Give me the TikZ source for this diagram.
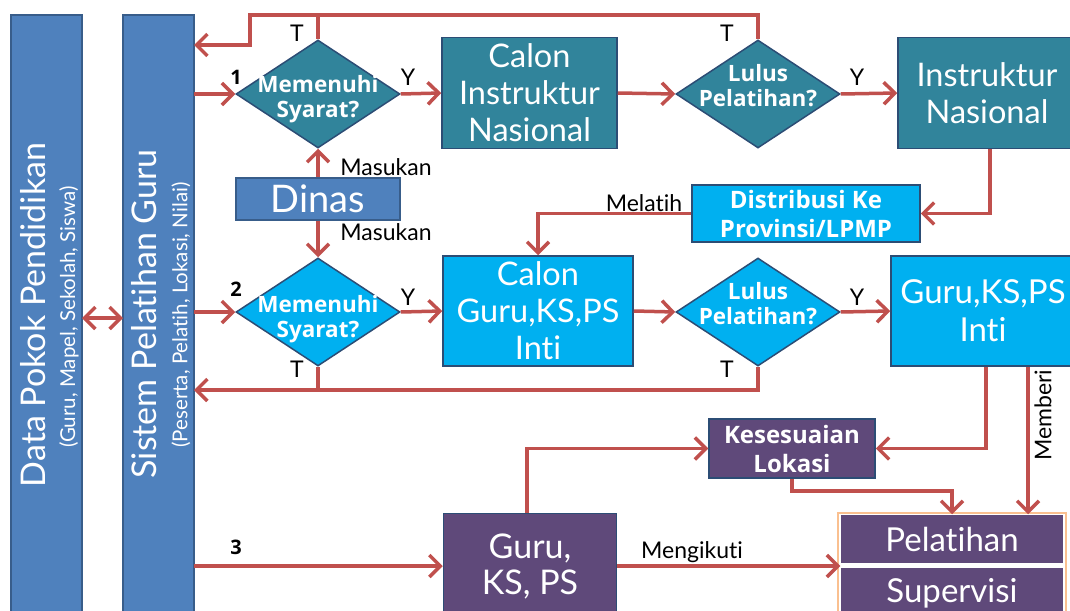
\documentclass[tikz,border=0pt]{standalone}
\usepackage{fontspec}
\setmainfont{Lato}[Ligatures=NoCommon]
\newfontfamily\bfam{Open Sans}[Ligatures=NoCommon]
\usetikzlibrary{shapes.geometric,arrows.meta,calc}
\definecolor{barblue}{HTML}{4F81BD}
\definecolor{barborder}{HTML}{385D8A}
\definecolor{tealc}{HTML}{31849B}
\definecolor{cyanc}{HTML}{00B0F0}
\definecolor{purplec}{HTML}{5F497A}
\definecolor{boxborder}{HTML}{2C4D75}
\definecolor{linered}{HTML}{C0504D}
\definecolor{orangeb}{HTML}{FAC090}
\tikzset{
  bar/.style={draw=barborder,line width=1.5pt,fill=barblue},
  box/.style={draw=boxborder,line width=1.5pt,minimum width=#1,text=white,align=center,inner sep=0pt},
  dia/.style={diamond,draw=boxborder,line width=1.5pt,minimum width=164pt,minimum height=108pt,inner sep=0pt},
  bigtxt/.style={font=\fontsize{32.5}{37}\selectfont},
  boldtxt/.style={font=\bfam\bfseries\fontsize{22.5}{25}\selectfont,text=white,align=center},
  lbl/.style={font=\fontsize{23}{25}\selectfont,inner sep=0pt},
  num/.style={font=\bfam\bfseries\fontsize{20}{22}\selectfont,inner sep=0pt},
  line/.style={draw=linered,line width=3.5pt},
  tip/.tip={Straight Barb[length=11pt,width=22pt,line width=3.5pt]},
  arr/.style={line,-tip},
}
\begin{document}
\begin{tikzpicture}[x=1pt,y=-1pt]
\useasboundingbox (0,0) rectangle (1070,610);
% bars
\path[bar] (11,15) rectangle (82,625);
\path[bar] (123,15) rectangle (194,625);
\coordinate (b1e) at (82,318);
\coordinate (b2w) at (123,318);
\coordinate (b2e) at (194,318);
\node[rotate=90,text=white,inner sep=0pt,font=\fontsize{34}{36}\selectfont] (t1) at (33,315) {Data Pokok Pendidikan};
\node[rotate=90,text=white,inner sep=0pt,font=\fontsize{20.5}{22}\selectfont] (t1s) at (69,317) {(Guru, Mapel, Sekolah, Siswa)};
\node[rotate=90,text=white,inner sep=0pt,font=\fontsize{34}{36}\selectfont] (t2) at (144,314) {Sistem Pelatihan Guru};
\node[rotate=90,text=white,inner sep=0pt,font=\fontsize{20.5}{22}\selectfont] (t2s) at (181,315) {(Peserta, Pelatih, Lokasi, Nilai)};

% row 1
\node[dia,fill=tealc] (d1) at (318,94) {};
\node[boldtxt] (d1t) at (318,99) {Memenuhi\\Syarat?};
\node[box=175pt,fill=tealc,minimum height=111pt,bigtxt] (cin) at (529.5,93) {Calon\\Instruktur\\Nasional};
\node[dia,fill=tealc] (l1) at (758,94) {};
\node[boldtxt] (l1t) at (758,86) {Lulus\\Pelatihan?};
\node[box=178pt,fill=tealc,minimum height=111pt,bigtxt] (inas) at (987,93) {Instruktur\\Nasional};

% dinas & distribusi
\node[box=164pt,fill=barblue,draw=barborder,minimum height=42pt,font=\fontsize{38}{40}\selectfont] (dinas) at (318,199) {Dinas};
\node[box=228pt,fill=cyanc,minimum height=57pt,font=\bfam\bfseries\fontsize{24}{29}\selectfont] (dist) at (806,213.5) {Distribusi Ke\\Provinsi/LPMP};

% row 2
\node[dia,fill=cyanc] (d2) at (318,312) {};
\node[boldtxt] (d2t) at (318,319) {Memenuhi\\Syarat?};
\node[box=190pt,fill=cyanc,minimum height=110pt,bigtxt] (cgi) at (538,311) {Calon\\Guru,KS,PS\\Inti};
\node[dia,fill=cyanc] (l2) at (758,312) {};
\node[boldtxt] (l2t) at (758,304) {Lulus\\Pelatihan?};
\node[box=184pt,fill=cyanc,minimum height=110pt,font=\fontsize{33}{38}\selectfont] (gin) at (983,311) {Guru,KS,PS\\Inti};

% row 3
\node[box=166pt,fill=purplec,minimum height=59pt,font=\bfam\bfseries\fontsize{24}{29}\selectfont] (kes) at (792,448.5) {Kesesuaian\\Lokasi};
\node[box=173pt,fill=purplec,minimum height=105pt,font=\fontsize{34}{36}\selectfont] (gkp) at (530,566) {Guru,\\KS, PS};
\path[draw=orangeb,line width=2pt] (838,513) rectangle (1066,620);
\node[box=222pt,fill=purplec,draw=none,minimum height=48pt,font=\fontsize{33}{34}\selectfont] (pel) at (952,539) {Pelatihan};
\node[box=222pt,fill=purplec,draw=none,minimum height=50pt,font=\fontsize{33}{34}\selectfont] (sup) at (952,593) {Supervisi};

% connectors
\draw[line,tip-tip] (b1e) -- (b2w);
\draw[arr] (d1.west -| b2e) -- (d1.west);
\draw[arr] (d1.east) -- (cin.west);
\draw[arr] (cin.east) -- (l1.west);
\draw[arr] (l1.east) -- (inas.west);
\coordinate (tt) at (250,15);
\coordinate (tl) at (250,45);
\draw[arr] (l1.north) |- (tt) -- (tl) -- (tl -| b2e);
\draw[line] (d1.north) -- (d1.north |- tt);
\draw[arr] (dinas.north) -- (d1.south);
\draw[arr] (dinas.south) -- (d2.north);
\draw[arr] ([xshift=3pt]inas.south) |- (dist.east);
\draw[arr] (dist.west) -| (cgi.north);
\draw[arr] (d2.west -| b2e) -- (d2.west);
\draw[arr] (d2.east) -- (cgi.west);
\draw[arr] (cgi.east) -- (l2.west);
\draw[arr] (l2.east) -- (gin.west);
\coordinate (tb) at (0,390);
\draw[arr] (l2.south) |- (tb -| b2e);
\draw[line] (d2.south) -- (d2.south |- tb);
\draw[arr] ([xshift=3pt]gin.south) |- (kes.east);
\draw[arr] ([xshift=45pt]gin.south) -- ([xshift=45pt]gin.south |- pel.north);
\draw[arr] (kes.south) -- ++(0,12) -| (pel.north);
\draw[arr] ([xshift=-3pt]gkp.north) |- (kes.west);
\draw[arr] (gkp.west -| b2e) -- (gkp.west);
\draw[arr] (gkp.east) -- (gkp.east -| pel.west);

% labels
\node[num] (n1) at (236,77) {1};
\node[num] (n2) at (236,289) {2};
\node[num] (n3) at (236,547) {3};
\node[lbl] (y1) at (408,77) {Y};
\node[lbl] (y2) at (857,77) {Y};
\node[lbl] (y3) at (408,297) {Y};
\node[lbl] (y4) at (857,297) {Y};
\node[lbl] (tt1) at (297,33) {T};
\node[lbl] (tt2) at (727,33) {T};
\node[lbl] (tt3) at (297,369) {T};
\node[lbl] (tt4) at (727,369) {T};
\node[lbl] (m1) at (386,167) {Masukan};
\node[lbl] (m2) at (386,232) {Masukan};
\node[lbl] (mel) at (644,203) {Melatih};
\node[lbl] (men) at (692,552) {Mengikuti};
\node[lbl,rotate=90] (mem) at (1043,415) {Memberi};
\end{tikzpicture}
\end{document}
